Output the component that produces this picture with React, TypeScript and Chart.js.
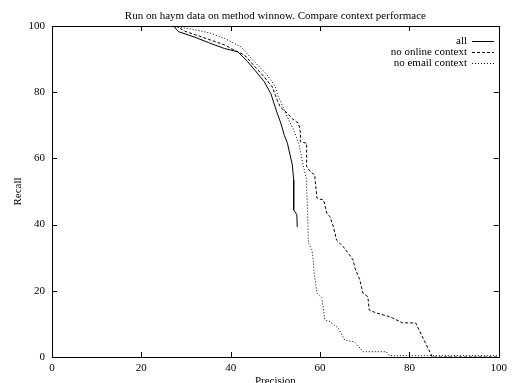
import React, { useEffect, useRef } from "react";
import { Chart, registerables } from "chart.js";

Chart.register(...registerables);

const TITLE = "Run on haym data on method winnow. Compare context performace";
const X_TITLE = "Precision";
const Y_TITLE = "Recall";
const TICK_VALUES = [0, 20, 40, 60, 80, 100];
const SERIES_NAMES = ["all", "no online context", "no email context"];

const allPrecision = [27.2, 28.3, 32, 35, 38.6, 41.6, 43.8, 45.5, 47.5, 49, 50.4, 51.2, 52, 52.7, 53.8, 54.1, 54.1, 54.8, 54.9];
const allRecall = [100, 98.3, 96.6, 95, 93.2, 92.2, 89.2, 86.5, 83.2, 79.5, 73.7, 70.7, 67, 64.6, 58, 53.5, 44.4, 43, 39.3];

const onlinePrecision = [27.7, 29.8, 33.5, 38.6, 40.8, 43.1, 44.5, 47.5, 49.3, 50.4, 51.1, 52.7, 54.1, 55.2, 55.6, 55.6, 57, 57, 57.8, 58.8, 59.3, 60.8, 61.5, 62.2, 63, 63.7, 64.4, 65.2, 66.5, 67.4, 67.8, 68.9, 69.6, 70.7, 71, 72.6, 75.5, 76.2, 78.5, 81.4, 84.7, 85.1, 100];
const onlineRecall = [100, 98.4, 96.7, 94.3, 92.7, 91.2, 89.1, 84.6, 81.6, 77.6, 75.5, 73.6, 71.6, 70.6, 68, 65, 64.6, 57.5, 56, 55, 48, 47.4, 43.5, 42.4, 39.3, 35.3, 34.4, 33.3, 31, 29.3, 26.9, 23.3, 19.3, 18.2, 14.2, 13.3, 12.2, 11.8, 10.3, 10.3, 1.2, 0, 0];

const emailPrecision = [27.5, 31.2, 35.6, 38.7, 42.3, 45.3, 48.2, 50, 50.4, 52.3, 53, 54.1, 55.2, 56.3, 57, 57, 57.2, 57.4, 58.2, 58.5, 58.6, 59.3, 60.4, 61.1, 62.2, 64.1, 65.5, 67.7, 69.6, 74.8, 75.5, 100];
const emailRecall = [99.8, 99.1, 97.8, 96.2, 93.7, 89.2, 85.2, 81.7, 79.7, 73.6, 71.6, 68.6, 64.6, 57.5, 53.5, 51.5, 44, 34.4, 32.3, 29, 26.3, 19.3, 17.8, 11.2, 10.7, 8.7, 5.1, 4.6, 1.6, 1.6, 0.4, 0.4];

const FONT = "'Liberation Serif', 'DejaVu Serif', serif";
const DASHES: number[][] = [[], [3, 2], [1, 2]];

function toPoints(xs: number[], ys: number[]) {
  return xs.map((x, i) => ({ x, y: ys[i] }));
}

const gnuplotPlugin = {
  id: "gnuplotFrame",
  afterDraw(chart: any) {
    const { ctx, chartArea } = chart;
    const { left, right, top, bottom } = chartArea;
    const xs = chart.scales.x;
    const ys = chart.scales.y;
    ctx.save();
    ctx.strokeStyle = "#000";
    ctx.lineWidth = 1;
    ctx.setLineDash([]);
    ctx.strokeRect(Math.round(left) + 0.5, Math.round(top) + 0.5, Math.round(right - left), Math.round(bottom - top));
    const tl = 5;
    ctx.beginPath();
    TICK_VALUES.forEach((v) => {
      const px = Math.round(xs.getPixelForValue(v)) + 0.5;
      ctx.moveTo(px, bottom);
      ctx.lineTo(px, bottom - tl);
      ctx.moveTo(px, top);
      ctx.lineTo(px, top + tl);
      const py = Math.round(ys.getPixelForValue(v)) + 0.5;
      ctx.moveTo(left, py);
      ctx.lineTo(left + tl, py);
      ctx.moveTo(right, py);
      ctx.lineTo(right - tl, py);
    });
    ctx.stroke();

    ctx.fillStyle = "#000";
    ctx.font = `11px ${FONT}`;
    ctx.textAlign = "center";
    ctx.textBaseline = "alphabetic";
    ctx.fillText(TITLE, (left + right) / 2, 18.5);
    ctx.fillText(X_TITLE, (left + right) / 2, 384);

    ctx.save();
    ctx.translate(18, (top + bottom) / 2);
    ctx.rotate(-Math.PI / 2);
    ctx.textBaseline = "middle";
    ctx.fillText(Y_TITLE, 0, 0);
    ctx.restore();

    // legend
    ctx.textAlign = "right";
    ctx.textBaseline = "middle";
    SERIES_NAMES.forEach((name, i) => {
      const y = 41 + i * 11;
      ctx.fillText(name, 467, y);
      ctx.beginPath();
      ctx.setLineDash(DASHES[i]);
      ctx.moveTo(472, Math.round(y) + 0.5);
      ctx.lineTo(494, Math.round(y) + 0.5);
      ctx.stroke();
    });
    ctx.restore();
  },
};

export default function App() {
  const canvasRef = useRef<HTMLCanvasElement | null>(null);

  useEffect(() => {
    const canvas = canvasRef.current;
    if (!canvas) return;
    const series = [
      toPoints(allPrecision, allRecall),
      toPoints(onlinePrecision, onlineRecall),
      toPoints(emailPrecision, emailRecall),
    ];
    const chart = new Chart(canvas, {
      type: "line",
      data: {
        datasets: series.map((data, i) => ({
          label: SERIES_NAMES[i],
          data,
          borderColor: "#000",
          borderWidth: 1,
          borderDash: DASHES[i],
          pointRadius: 0,
          tension: 0,
          fill: false,
        })),
      },
      options: {
        animation: false,
        responsive: true,
        maintainAspectRatio: false,
        layout: { padding: { top: 26, right: 8, left: 0, bottom: 0 } },
        plugins: {
          legend: { display: false },
          title: { display: false },
          tooltip: { enabled: false },
        },
        scales: {
          x: {
            type: "linear",
            min: 0,
            max: 100,
            afterFit: (scale: any) => {
              scale.height = 26;
            },
            afterBuildTicks: (scale: any) => {
              scale.ticks = TICK_VALUES.map((v) => ({ value: v }));
            },
            grid: { display: false, drawTicks: false },
            border: { display: false },
            ticks: {
              color: "#000",
              padding: 5,
              maxRotation: 0,
              font: { family: FONT, size: 11 },
            },
          },
          y: {
            type: "linear",
            min: 0,
            max: 100,
            afterFit: (scale: any) => {
              scale.width = 52;
            },
            afterBuildTicks: (scale: any) => {
              scale.ticks = TICK_VALUES.map((v) => ({ value: v }));
            },
            grid: { display: false, drawTicks: false },
            border: { display: false },
            ticks: {
              color: "#000",
              padding: 7,
              font: { family: FONT, size: 11 },
            },
          },
        },
      },
      plugins: [gnuplotPlugin],
    });
    return () => chart.destroy();
  }, []);

  return (
    <div style={{ position: "absolute", left: 0, top: 0, width: 512, height: 383, background: "#fff" }}>
      <canvas ref={canvasRef} />
    </div>
  );
}
